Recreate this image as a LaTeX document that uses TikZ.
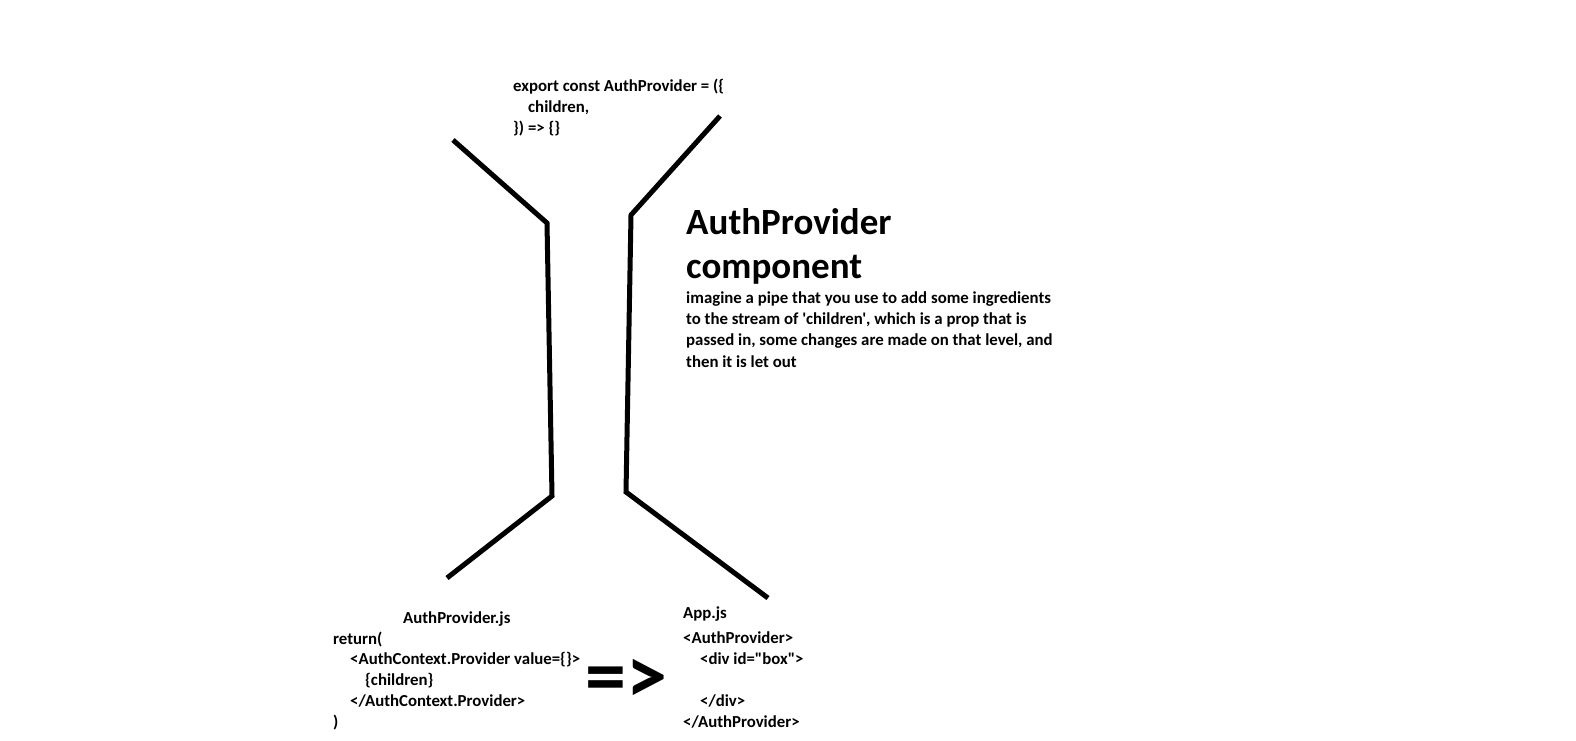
\documentclass[tikz,border=0pt]{standalone}
\usepackage{fontspec}
\setmainfont{Carlito}[Ligatures=TeXOff]
\begin{document}
\begin{tikzpicture}[x=1pt, y=-1pt, line join=miter, line cap=butt,
	pipe/.style={line width=5pt},
	code/.style={inner sep=0pt, anchor=base west, align=left, font=\fontsize{16.8}{21}\selectfont\bfseries},
	title/.style={inner sep=0pt, anchor=base west, align=left, font=\fontsize{37}{44}\selectfont\bfseries}]
	% Khung trang
	\fill[white] (0,0) rectangle (1576,740);
	\useasboundingbox (0,0) rectangle (1576,740);
	
	% Tọa độ ống bên trái
	\coordinate (L1) at (453,140);
	\coordinate (L2) at (547,223);
	\coordinate (L3) at (552,496);
	\coordinate (L4) at (447,578);
	% Tọa độ ống bên phải
	\coordinate (R1) at (720,116);
	\coordinate (R2) at (631,215);
	\coordinate (R3) at (626,492);
	\coordinate (R4) at (768,598);
	
	% Vẽ ống
	\draw[pipe] (L1) -- (L2) -- (L3) -- (L4);
	\draw[pipe] (R1) -- (R2) -- (R3) -- (R4);
	
	% Đoạn mã phía trên (neo ở dòng cuối)
	\node[code] (props) at (513,133) {export const AuthProvider = (\{\\
		\hspace*{15pt}children,\\
		\}) => \{\}};
	
	% Tiêu đề và mô tả
	\node[title] (heading) at (686,278) {AuthProvider\\component};
	\node[code, font=\fontsize{16.8}{21.3}\selectfont\bfseries] (desc) at (686,367) {imagine a pipe that you use to add some ingredients\\
		to the stream of 'children', which is a prop that is\\
		passed in, some changes are made on that level, and\\
		then it is let out};
	
	% Tệp AuthProvider.js
	\node[code, font=\fontsize{16.8}{20.7}\selectfont\bfseries] (provfile) at (333,727) {\hspace*{70pt}AuthProvider.js\\
		return(\\
		\hspace*{17pt}<AuthContext.Provider value=\{\}>\\
		\hspace*{32pt}\{children\}\\
		\hspace*{17pt}</AuthContext.Provider>\\
		)};
	
	% Mũi tên =>
	\node[inner sep=0pt, font=\fontsize{82}{82}\selectfont\bfseries] (yields) at (626,681) {=>};
	
	% Tệp App.js
	\node[code] (appfile) at (683,618) {App.js};
	\node[code] (appbody) at (683,727) {<AuthProvider>\\
		\hspace*{17pt}<div id="box">\\
		\\
		\hspace*{17pt}</div>\\
		</AuthProvider>};
\end{tikzpicture}
\end{document}
